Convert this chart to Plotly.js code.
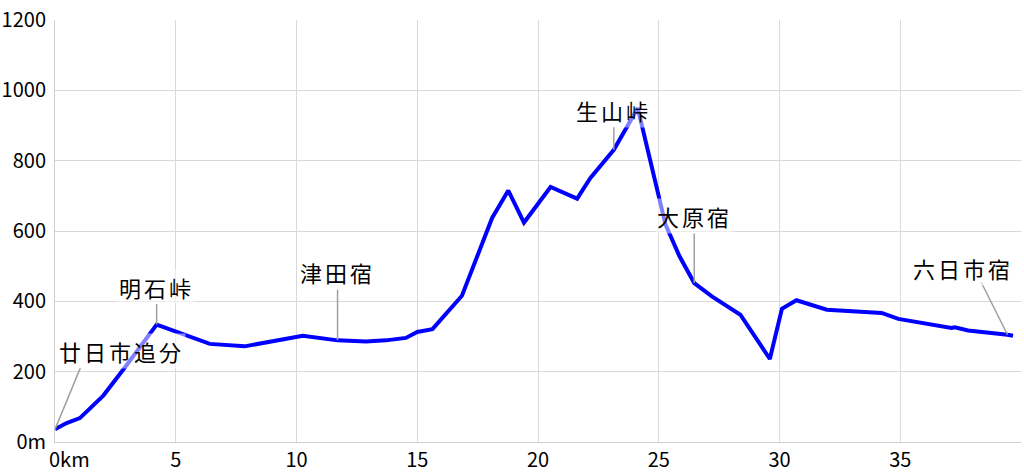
<!DOCTYPE html>
<html>
<head>
<meta charset="utf-8">
<script src="https://cdn.plot.ly/plotly-3.0.1.min.js"></script>
<style>
html,body{margin:0;padding:0;background:#fff;}
.annotation-text{letter-spacing:3px;}
</style>
</head>
<body>
<div id="chart" style="width:1024px;height:476px;"></div>
<script>
// distance along the route (km)
const distKm = [0, 0.48, 1.03, 2.0, 2.83, 4.21, 6.41, 7.85, 10.26, 11.7, 12.88, 13.7, 14.53, 15.0, 15.63, 16.85, 18.1, 18.77, 19.42, 20.52, 21.62, 22.17, 23.14, 24.13, 25.28, 25.86, 26.47, 27.2, 28.38, 29.6, 30.1, 30.7, 31.96, 34.23, 34.92, 37.12, 37.26, 37.81, 39.44, 39.67];
// elevation (m)
const elevM = [36, 54, 68, 132, 206, 334, 279, 272, 302, 289, 286, 289, 296, 313, 321, 416, 637, 715, 624, 725, 692, 751, 831, 950, 618, 528, 452, 414, 362, 236, 379, 403, 376, 367, 350, 324, 326, 317, 305, 302];

// named places: index into the series above
const placeNames = ["廿日市追分", "明石峠", "津田宿", "生山峠", "大原宿", "六日市宿"];
const placeIdx   = [0, 5, 9, 22, 26, 38];

const xTickVals = [0, 5, 10, 15, 20, 25, 30, 35];
const xTickText = ["0km", "5", "10", "15", "20", "25", "30", "35"];
const yTickVals = [0, 200, 400, 600, 800, 1000, 1200];
const yTickText = ["0m", "200", "400", "600", "800", "1000", "1200"];

const labelFont = {family: "Noto Sans CJK JP, sans-serif", size: 22, color: "#000"};
const leader = "#a0a0a0";
// label layout: [arrow tail dx, dy, text dx, dy] in pixels (vertical leaders use text-attached arrow)
const layoutSpec = [
  {mode: "split", ax: 26, ay: -63, tx: 66, ty: 78},
  {mode: "attached", ay: -38},
  {mode: "attached", ay: -68},
  {mode: "attached", ay: -40},
  {mode: "attached", ay: -67},
  {mode: "split", ax: -27, ay: -54, tx: -44, ty: 67}
];

const annotations = [];
placeNames.forEach((name, i) => {
  const k = placeIdx[i];
  const s = layoutSpec[i];
  const px = distKm[k], py = elevM[k];
  if (s.mode === "attached") {
    annotations.push({
      x: px, y: py, xref: "x", yref: "y", text: name, showarrow: true,
      arrowhead: 0, arrowwidth: 1.5, arrowcolor: leader, ax: 0, ay: s.ay,
      font: labelFont, bgcolor: "rgba(255,255,255,0.5)", borderpad: 1
    });
  } else {
    annotations.push({
      x: px, y: py, xref: "x", yref: "y", text: "", showarrow: true,
      arrowhead: 0, arrowwidth: 1.5, arrowcolor: leader, ax: s.ax, ay: s.ay
    });
    annotations.push({
      x: px, y: py, xref: "x", yref: "y", text: name, showarrow: false,
      xshift: s.tx, yshift: s.ty, xanchor: "center", yanchor: "middle",
      font: labelFont, bgcolor: "rgba(255,255,255,0.5)", borderpad: 1
    });
  }
});

const trace = {
  x: distKm, y: elevM, type: "scatter", mode: "lines",
  line: {color: "#0000ff", width: 4},
  hoverinfo: "skip", showlegend: false
};

const tickFont = {family: "Noto Sans CJK JP, sans-serif", size: 20, color: "#000"};

const layout = {
  width: 1024, height: 476,
  margin: {l: 55, r: 3, t: 20, b: 34, pad: 0},
  paper_bgcolor: "#fff", plot_bgcolor: "#fff",
  showlegend: false,
  xaxis: {
    range: [0, 40], tickvals: xTickVals, ticktext: xTickText,
    showgrid: true, gridcolor: "#d9d9d9", gridwidth: 1,
    showline: true, linecolor: "#d0d0d0", linewidth: 1,
    zeroline: false, ticks: "", tickfont: tickFont, ticklabelstandoff: 0,
    fixedrange: true
  },
  yaxis: {
    range: [0, 1200], tickvals: yTickVals, ticktext: yTickText,
    showgrid: true, gridcolor: "#d9d9d9", gridwidth: 1,
    showline: true, linecolor: "#d0d0d0", linewidth: 1,
    zeroline: false, ticks: "", tickfont: tickFont, ticklabelstandoff: 4,
    fixedrange: true
  },
  annotations: annotations
};

Plotly.newPlot("chart", [trace], layout, {staticPlot: true, displayModeBar: false}).then(() => {
  // nudge the first distance label so that "0" sits at the origin, as in the reference
  const first = document.querySelector(".xtick text");
  if (first) {
    first.setAttribute("text-anchor", "start");
    const x = parseFloat(first.getAttribute("x") || "0");
    first.setAttribute("x", String(x - 6));
  }
});
</script>
</body>
</html>
